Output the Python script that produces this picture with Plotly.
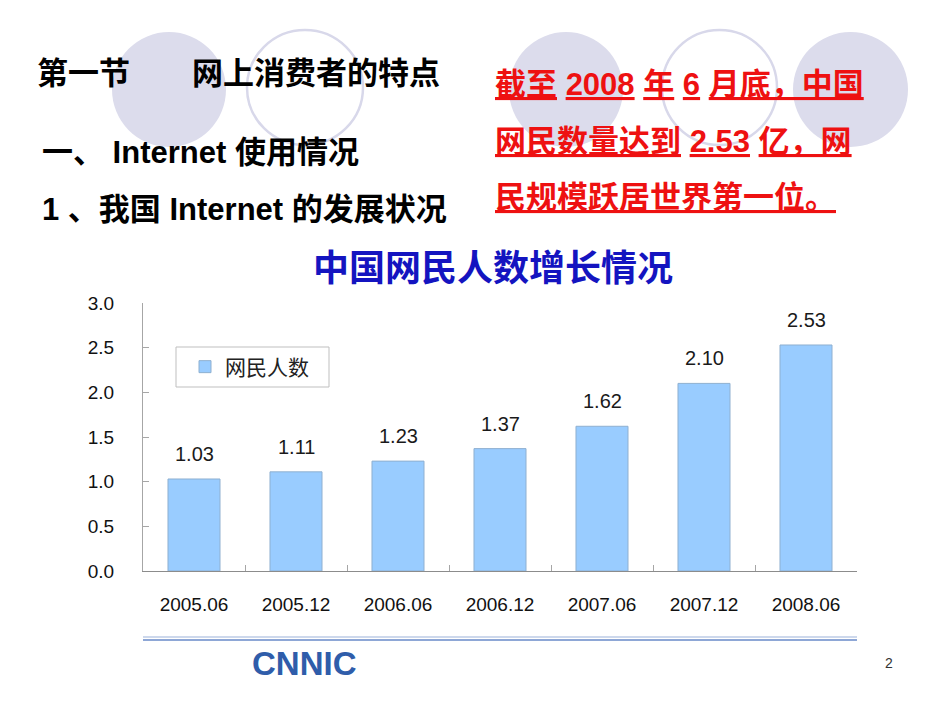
import plotly.graph_objects as go

categories = ["2005.06", "2005.12", "2006.06", "2006.12", "2007.06", "2007.12", "2008.06"]
netizens = [1.03, 1.11, 1.23, 1.37, 1.62, 2.10, 2.53]
value_labels = ["1.03", "1.11", "1.23", "1.37", "1.62", "2.10", "2.53"]
y_ticks = [0.0, 0.5, 1.0, 1.5, 2.0, 2.5, 3.0]
y_tick_labels = ["0.0", "0.5", "1.0", "1.5", "2.0", "2.5", "3.0"]
series_name = "网民人数"
chart_title = "中国网民人数增长情况"

W, H = 950, 713
def px(x):
    return x / W
def py(y):
    return 1 - y / H

CJK = "Noto Sans CJK SC"
LAT = "Liberation Sans"

fig = go.Figure()
fig.add_trace(go.Bar(
    x=categories, y=netizens, name=series_name,
    marker=dict(color="#99CCFF", line=dict(color="#8FB0D0", width=1)),
    width=0.51, showlegend=True,
))

annotations = []
for i, (v, t) in enumerate(zip(netizens, value_labels)):
    annotations.append(dict(x=i, y=v, xref="x", yref="y", text=t, showarrow=False,
                            yshift=25, font=dict(family=LAT, size=20, color="#1a1a1a")))

# chart title
annotations.append(dict(x=px(493), y=py(265), xref="paper", yref="paper", text="<b>" + chart_title + "</b>",
                        showarrow=False, font=dict(family=CJK, size=36, color="#1414C0")))

# slide texts
black_lines = [
    ("<b>第一节　　网上消费者的特点</b>", 35, 73),
    ("<b>一、 Internet 使用情况</b>", 40, 152),
    ("<b>1 、我国 Internet 的发展状况</b>", 40, 209),
]
for t, x, y in black_lines:
    annotations.append(dict(x=px(x), y=py(y), xref="paper", yref="paper", text=t, showarrow=False,
                            xanchor="left", yanchor="middle",
                            font=dict(family=LAT + ", " + CJK, size=31, color="#000000")))

red_lines = [
    ("<b><u>截至</u> <u>2008</u> <u>年</u> <u>6</u> <u>月底，中国</u></b>", 493, 84),
    ("<b><u>网民数量达到</u> <u>2.53</u> <u>亿，网</u></b>", 493, 141),
    ("<b><u>民规模跃居世界第一位。</u></b>", 493, 198),
]
for t, x, y in red_lines:
    annotations.append(dict(x=px(x), y=py(y), xref="paper", yref="paper", text=t, showarrow=False,
                            xanchor="left", yanchor="middle",
                            font=dict(family=LAT + ", " + CJK, size=31, color="#EE1111")))

# logo & page number
annotations.append(dict(x=px(250), y=py(663), xref="paper", yref="paper", text="<b>CNNIC</b>", showarrow=False,
                        xanchor="left", yanchor="middle",
                        font=dict(family=LAT, size=33, color="#2F5DAA")))
annotations.append(dict(x=px(889), y=py(663), xref="paper", yref="paper", text="2", showarrow=False,
                        xanchor="center", yanchor="middle",
                        font=dict(family=LAT, size=14, color="#333333")))

shapes = []
# decorative circles
fill_c = "#DCDCEC"
for x0, x1 in [(112, 226), (509, 623), (793, 908)]:
    shapes.append(dict(type="circle", xref="paper", yref="paper", layer="below",
                       x0=px(x0), x1=px(x1), y0=py(147), y1=py(32),
                       fillcolor=fill_c, line=dict(width=0)))
for x0, x1 in [(247, 363), (662, 777)]:
    shapes.append(dict(type="circle", xref="paper", yref="paper", layer="below",
                       x0=px(x0), x1=px(x1), y0=py(145), y1=py(30),
                       fillcolor="rgba(0,0,0,0)", line=dict(color="#D8D8EA", width=2.5)))
# legend frame
shapes.append(dict(type="rect", xref="paper", yref="paper", layer="below",
                   x0=px(176), x1=px(329), y0=py(387), y1=py(347),
                   fillcolor="white", line=dict(color="#BFBFBF", width=1)))
# bottom double line
shapes.append(dict(type="line", xref="paper", yref="paper", x0=px(143), x1=px(857), y0=py(637), y1=py(637),
                   line=dict(color="#BCCBE6", width=1.5)))
shapes.append(dict(type="line", xref="paper", yref="paper", x0=px(143), x1=px(857), y0=py(640), y1=py(640),
                   line=dict(color="#8EA7D6", width=2)))

fig.update_layout(
    width=W, height=H,
    margin=dict(l=0, r=0, t=0, b=0),
    paper_bgcolor="white", plot_bgcolor="rgba(0,0,0,0)",
    xaxis=dict(domain=[px(143), px(857)], type="category", range=[-0.5, 6.5], showgrid=False,
               showline=True, linecolor="#8C8C8C", linewidth=1, automargin=False,
               ticks="inside", ticklen=6, tickcolor="#A6A6A6", tickson="boundaries",
               ticklabelstandoff=16,
               tickfont=dict(family=LAT, size=19, color="#111111")),
    yaxis=dict(domain=[py(571), py(303)], range=[0, 3], showgrid=False, zeroline=False,
               showline=True, linecolor="#A6A6A6", linewidth=1, automargin=False,
               tickvals=y_ticks, ticktext=y_tick_labels,
               ticks="inside", ticklen=6, tickcolor="#A6A6A6",
               ticklabelstandoff=24,
               tickfont=dict(family=LAT, size=19, color="#111111")),
    legend=dict(x=px(185), y=py(367), xanchor="left", yanchor="middle",
                borderwidth=0, bgcolor="rgba(0,0,0,0)",
                font=dict(family=CJK, size=21, color="#222222")),
    annotations=annotations,
    shapes=shapes,
)

fig.write_html("out.html")
